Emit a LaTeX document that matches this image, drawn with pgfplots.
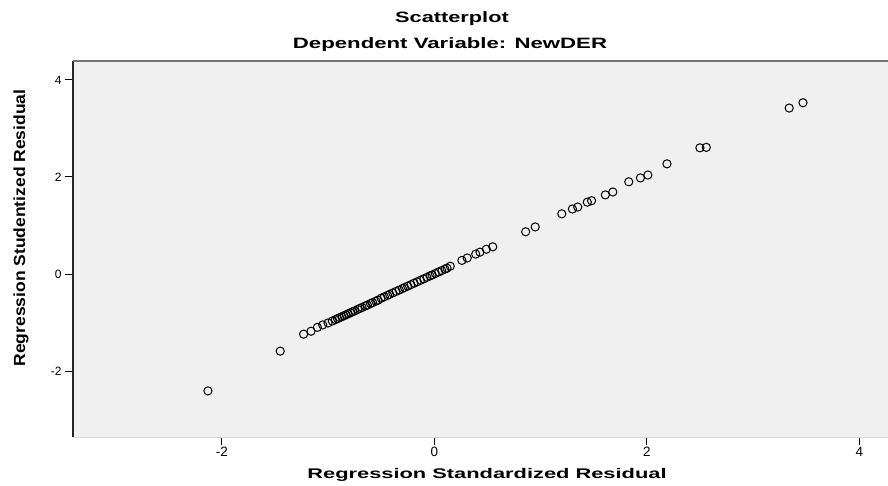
\documentclass[border=0pt]{standalone}
\usepackage{pgfplots}
\pgfplotsset{compat=1.18}
\usepackage{fontspec}
\setmainfont{Liberation Sans}
\definecolor{bgcol}{HTML}{F0F0F0}
\begin{document}
\begin{tikzpicture}[x=1pt,y=1pt]
\path[use as bounding box, fill=white] (0,0) rectangle (888,-486);
\begin{axis}[
  at={(73pt,-437pt)}, anchor=south west,
  scale only axis, width=815pt, height=376pt,
  xmin=-3.40, xmax=4.27, ymin=-3.36, ymax=4.39,
  axis background/.style={fill=bgcol},
  axis line style={draw=none},
  xtick={-2,0,2,4}, ytick={-2,0,2,4},
  xtick pos=bottom, ytick pos=left,
  tick align=outside, major tick length=8pt,
  tick style={black, line width=0.9pt},
  /pgf/number format/assume math mode=true,
  xticklabel style={font=\fontsize{13.5}{13.5}\selectfont, yshift=1pt},
  yticklabel style={font=\fontsize{12}{12}\selectfont},
  clip=false,
]
\addplot[only marks, mark=o, mark size=4.1pt, mark options={line width=1.0pt, black}] coordinates {
(-2.13,-2.41) (-1.45,-1.59) (-1.23,-1.24) (-1.16,-1.18) (-1.10,-1.10) (-1.05,-1.05) (-1.00,-1.01)
(-0.96,-0.97) (-0.93,-0.94) (-0.91,-0.92) (-0.89,-0.90) (-0.87,-0.88) (-0.85,-0.86) (-0.83,-0.84)
(-0.81,-0.82) (-0.79,-0.80) (-0.77,-0.78) (-0.75,-0.76) (-0.72,-0.73) (-0.70,-0.71) (-0.68,-0.69)
(-0.65,-0.66) (-0.63,-0.64) (-0.60,-0.61) (-0.58,-0.59) (-0.55,-0.56) (-0.53,-0.54) (-0.50,-0.50)
(-0.47,-0.47) (-0.44,-0.44) (-0.42,-0.42) (-0.39,-0.39) (-0.36,-0.36) (-0.33,-0.33) (-0.30,-0.30)
(-0.28,-0.28) (-0.25,-0.25) (-0.22,-0.22) (-0.19,-0.19) (-0.16,-0.16) (-0.13,-0.13) (-0.10,-0.10)
(-0.07,-0.07) (-0.04,-0.04) (-0.02,-0.02) (0.01,0.01) (0.04,0.04) (0.07,0.07) (0.10,0.10)
(0.12,0.12) (0.15,0.16) (0.26,0.28) (0.31,0.33) (0.39,0.41) (0.43,0.45) (0.49,0.51) (0.55,0.56)
(0.86,0.87) (0.95,0.97) (1.20,1.24) (1.30,1.34) (1.35,1.38) (1.44,1.48) (1.48,1.51) (1.61,1.63)
(1.68,1.69) (1.83,1.90) (1.94,1.98) (2.01,2.04) (2.19,2.27) (2.50,2.60) (2.56,2.61) (3.34,3.42)
(3.47,3.53)
};
\draw[black!85, line width=1.3pt] (rel axis cs:0,0) -- (rel axis cs:0,1);
\draw[black!55, line width=1.3pt] (rel axis cs:0,1) -- (rel axis cs:1,1);
\draw[black!15, line width=0.8pt] (rel axis cs:0,0) -- (rel axis cs:1,0);
\end{axis}
\node[font=\bfseries\fontsize{15}{15}\selectfont] at (452,-19) {\scalebox{1.45}[1]{Scatterplot}};
\node[font=\bfseries\fontsize{15}{15}\selectfont] at (450,-45) {\scalebox{1.48}[1]{Dependent Variable: NewDER}};
\node[font=\bfseries\fontsize{14}{14}\selectfont] at (487,-475) {\scalebox{1.56}[1]{Regression Standardized Residual}};
\node[font=\bfseries\fontsize{14}{14}\selectfont, rotate=90] at (21,-228) {\scalebox{1.25}[1.15]{Regression Studentized Residual}};
\end{tikzpicture}
\end{document}
